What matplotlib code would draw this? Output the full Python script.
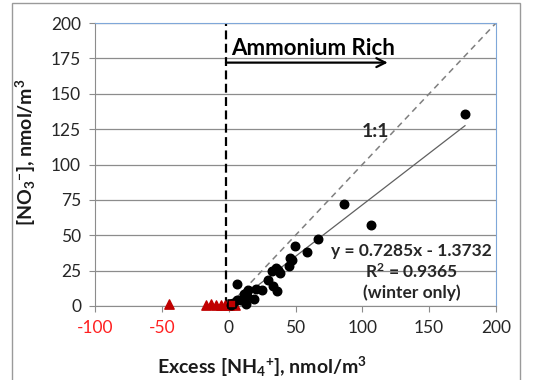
import matplotlib
matplotlib.use("Agg")
import matplotlib.pyplot as plt
from matplotlib.patches import Rectangle
import numpy as np

plt.rcParams["font.family"] = ["Lato", "DejaVu Sans"]
plt.rcParams["axes.unicode_minus"] = False
plt.rcParams["mathtext.fontset"] = "custom"
plt.rcParams["mathtext.rm"] = "Lato:bold"
plt.rcParams["mathtext.bf"] = "Lato:bold"
plt.rcParams["mathtext.it"] = "Lato:bold:italic"
plt.rcParams["mathtext.default"] = "bf"

# ==================== DATA ====================
# winter samples (black circles)
nh4_winter = [176.8, 86.5, 106.6, 66.9, 49.8, 58.3, 46.1, 47.5, 45.3, 36.8,
              32.4, 38.5, 35.5, 29.4, 33.1, 36.0, 25.2, 20.8, 19.1, 14.2,
              13.5, 11.8, 13.0, 6.4, 6.1, 3.0, 1.5, 9.0]
no3_winter = [136.0, 72.2, 57.3, 47.6, 42.2, 38.0, 34.0, 32.5, 28.1, 25.7,
              24.8, 23.0, 27.0, 18.6, 13.9, 10.4, 11.6, 12.0, 5.0, 11.6,
              7.0, 8.7, 1.7, 15.8, 4.5, 2.0, 0.8, 4.0]

# other samples (red triangles)
nh4_other = [-44.5, -17.0, -13.0, -9.5, -6.0, -3.0, 0.5, 4.5]
no3_other = [1.5, 0.8, 1.2, 1.0, 0.8, 1.0, 0.8, 0.5]

# single square marker near origin
nh4_square = [2.5]
no3_square = [1.5]

slope, intercept, r2 = 0.7285, -1.3732, 0.9365
boundary_x = -2
arrow_end_x = 119
arrow_y = 172

x_ticks = [-100, -50, 0, 50, 100, 150, 200]
y_ticks = [0, 25, 50, 75, 100, 125, 150, 175, 200]

# ==================== PLOT ====================
fig = plt.figure(figsize=(5.35, 3.8), dpi=100)
ax = fig.add_axes([95 / 535, 1 - 306 / 380, 401 / 535, 283 / 380])

# outer chart frame
fig.patches.append(Rectangle((12 / 535, -0.2), 508 / 535, 1.2 - 3 / 380,
                             transform=fig.transFigure, fill=False,
                             edgecolor="#9a9a9a", lw=1.0))

ax.set_xlim(-100, 200)
ax.set_ylim(0, 200)
ax.set_xticks(x_ticks)
ax.set_yticks(y_ticks)
ax.grid(True, axis="y", color="#8c8c8c", lw=0.9)
ax.set_axisbelow(True)

for side in ["left", "bottom"]:
    ax.spines[side].set_color("#8c8c8c")
for side in ["top", "right"]:
    ax.spines[side].set_color("#7fa7d9")

ax.tick_params(axis="both", direction="out", length=4, color="#8c8c8c",
               labelsize=12.5, labelcolor="#262626")
ax.tick_params(axis="x", pad=6)
ax.tick_params(axis="y", pad=6)
for lbl, val in zip(ax.get_xticklabels(), x_ticks):
    if val < 0:
        lbl.set_color("#ff2020")

# 1:1 line
ax.plot([0, 200], [0, 200], color="#7f7f7f", ls=(0, (4, 3)), lw=1.1)

# regression trendline (winter only)
xl = np.array([min(nh4_winter), max(nh4_winter)])
ax.plot(xl, slope * xl + intercept, color="#606060", lw=0.9)

# boundary line
ax.axvline(boundary_x, color="black", ls=(0, (4, 2)), lw=1.6)

ax.scatter(nh4_other, no3_other, marker="^", s=45, color="#c00000",
           zorder=3, clip_on=False)
ax.scatter(nh4_winter, no3_winter, marker="o", s=38, color="black",
           zorder=4, clip_on=False)
ax.scatter(nh4_square, no3_square, marker="s", s=40, color="#c00000",
           edgecolor="black", lw=1.2, zorder=5, clip_on=False)

ax.annotate("", xy=(arrow_end_x, arrow_y), xytext=(boundary_x, arrow_y),
            arrowprops=dict(arrowstyle="->", color="black", lw=1.6,
                            mutation_scale=16, shrinkA=0, shrinkB=0))
ax.text(2, 182, "Ammonium Rich", fontsize=16, fontweight="bold",
        ha="left", va="center", color="black")

ax.text(110, 123, "1:1", fontsize=14, fontweight="bold", ha="center",
        va="center", color="#262626")

ax.text(137, 38.9, f"y = {slope}x - {abs(intercept)}", fontsize=12.5,
        fontweight="bold", ha="center", va="center", color="#262626")
ax.text(137, 24.2, f"R$^2$ = {r2}", fontsize=12.5, fontweight="bold",
        ha="center", va="center", color="#262626")
ax.text(137, 9.4, "(winter only)", fontsize=12.5, fontweight="bold",
        ha="center", va="center", color="#262626")

fig.text(262 / 535, 1 - 367 / 380,
         "Excess [NH$_4$$^{+}$], nmol/m$^3$", fontsize=14,
         fontweight="bold", ha="center", va="center", color="#1a1a1a")
fig.text(26 / 535, 1 - 152 / 380,
         "[NO$_3$$^{-}$], nmol/m$^3$", fontsize=14, fontweight="bold",
         rotation=90, ha="center", va="center", color="#1a1a1a")

fig.savefig("out.png", dpi=100)
